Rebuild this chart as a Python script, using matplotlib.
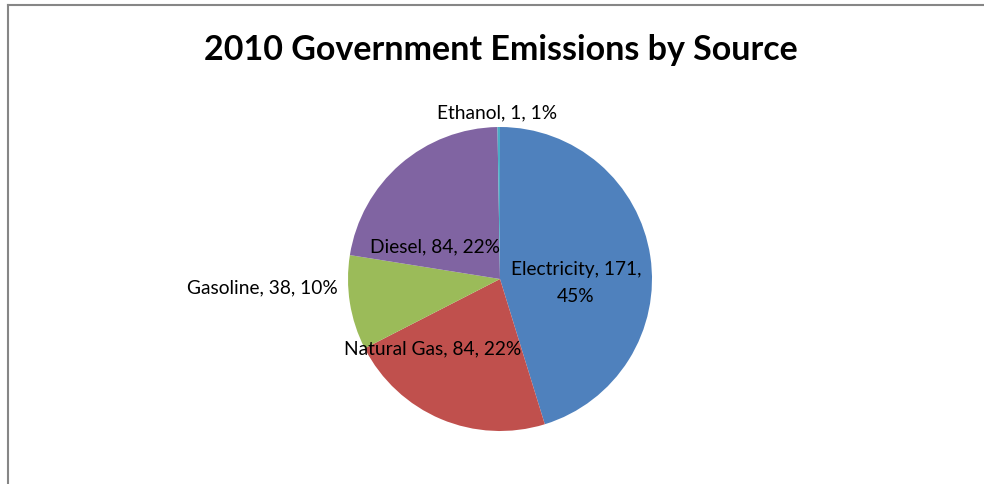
import matplotlib.pyplot as plt
from matplotlib.lines import Line2D

sources = ['Electricity', 'Natural Gas', 'Gasoline', 'Diesel', 'Ethanol']
values = [171, 84, 38, 84, 1]
percents = ['45%', '22%', '10%', '22%', '1%']
colors = ['#4F81BD', '#C0504D', '#9BBB59', '#8064A2', '#4BACC6']

# label placement (pie data units, radius = 1)
label_xy = [(0.50, -0.02), (-0.44, -0.45), (-1.07, -0.05), (-0.43, 0.22), (-0.02, 1.10)]
label_ha = ['center', 'center', 'right', 'center', 'center']

plt.rcParams['font.family'] = ['Lato', 'DejaVu Sans']

W, H = 984, 485
fig = plt.figure(figsize=(W / 100, H / 100), dpi=100)
ax = fig.add_axes([0, 0, 1, 1])

cx, cy, r = 500, 280, 152
ax.pie(values, colors=colors, startangle=90, counterclock=False,
       radius=1, center=(0, 0), wedgeprops=dict(linewidth=0))
ax.set_xlim(-cx / r, (W - cx) / r)
ax.set_ylim(-(H - cy) / r, cy / r)
ax.set_aspect('auto')
ax.axis('off')

for i, name in enumerate(sources):
    if name == 'Electricity':
        txt = f'{name}, {values[i]},\n{percents[i]}'
    else:
        txt = f'{name}, {values[i]}, {percents[i]}'
    x, y = label_xy[i]
    ax.text(x, y, txt, ha=label_ha[i], va='center', fontsize=13.8,
            color='black', linespacing=1.65, multialignment='center')

fig.text(501 / W, 1 - 50 / H, '2010 Government Emissions by Source',
         ha='center', va='center', fontsize=24.5, fontweight='bold')

# chart frame (top and left edges visible)
fig.add_artist(Line2D([8 / W, 1.01], [1 - 6 / H, 1 - 6 / H], color='#868686', lw=1.5,
                      transform=fig.transFigure))
fig.add_artist(Line2D([8 / W, 8 / W], [-0.01, 1 - 6 / H], color='#868686', lw=1.5,
                      transform=fig.transFigure))

fig.savefig('out.png', dpi=100)
